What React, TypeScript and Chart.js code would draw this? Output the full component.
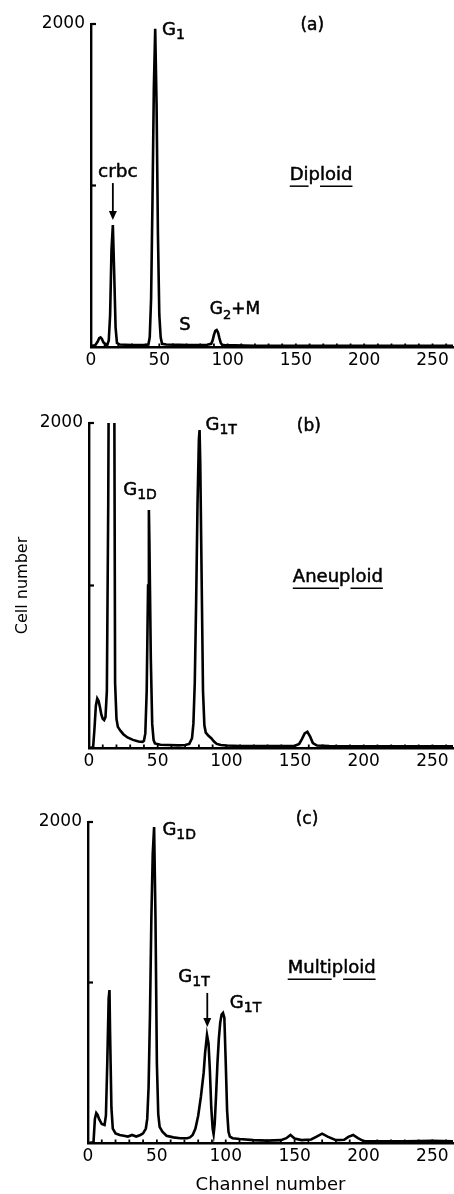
import React, { useEffect, useRef } from 'react';
import { Chart, registerables } from 'chart.js';

Chart.register(...registerables);

const FONT = 'DejaVu Sans';

// x-axis tick labels (channel number) and y-axis labelled tick
const channelTicks = [0, 50, 100, 150, 200, 250];
const minorChannelTicks = [10, 20, 30, 40, 50, 60, 70, 80, 90, 100, 110, 120, 130, 140, 150, 160, 170, 180, 190, 200, 210, 220, 230, 240, 250, 260];
const cellTicks = [1000, 2000];
const cellLabelled = [2000];

// (a) Diploid
const diploidChannels = [0, 3, 5, 6, 7, 8, 9, 11, 12, 13, 14, 15, 16, 17, 18, 19, 21, 25, 30, 35, 40, 42, 43, 44, 45, 46, 47, 48, 49, 50, 51, 52, 55, 60, 65, 70, 75, 80, 85, 88, 89, 90, 91, 92, 93, 94, 95, 96, 98, 105, 120, 140, 160, 180, 200, 220, 240, 265];
const diploidCounts = [8, 10, 35, 55, 60, 50, 30, 15, 15, 40, 200, 600, 755, 450, 120, 25, 15, 14, 12, 12, 12, 15, 60, 300, 900, 1600, 1970, 1500, 700, 200, 60, 20, 15, 14, 14, 12, 12, 12, 14, 20, 40, 75, 100, 105, 90, 55, 25, 14, 10, 10, 8, 8, 8, 8, 8, 8, 8, 8];

// (b) Aneuploid
const aneuploidChannels = [0, 3, 4, 5, 6, 7, 8, 9, 10, 11, 12, 13, 14, 15, 16, 17, 18, 19, 20, 21, 23, 25, 28, 32, 36, 39, 40, 41, 42, 43, 43.6, 44, 45, 46, 47, 48, 52, 58, 65, 70, 73, 75, 76, 77, 78, 79, 80, 80.5, 81, 82, 83, 84, 85, 87, 89, 91, 93, 96, 100, 110, 120, 135, 150, 153, 155, 157, 159, 161, 163, 166, 175, 200, 230, 265];
const aneuploidCounts = [0, 5, 120, 260, 305, 290, 250, 205, 180, 172, 190, 350, 1500, 3500, 4000, 4000, 3500, 400, 180, 130, 105, 85, 65, 50, 40, 38, 45, 90, 350, 1000, 1465, 1250, 550, 150, 50, 28, 20, 18, 16, 18, 25, 60, 150, 400, 900, 1500, 1900, 1957, 1750, 1050, 350, 140, 95, 75, 60, 40, 25, 18, 15, 12, 12, 12, 14, 25, 55, 90, 100, 70, 30, 15, 12, 10, 10, 10];

// (c) Multiploid
const multiploidChannels = [0, 4, 5, 6, 7, 8, 10, 12, 13, 14, 15, 15.6, 16, 17, 18, 20, 23, 26, 29, 32, 35, 38, 40, 42, 43, 44, 45, 46, 47, 48, 49, 50, 51, 52, 54, 57, 62, 67, 72, 74, 76, 78, 80, 82, 84, 85, 86.4, 87.5, 88.5, 89.5, 90.5, 91.2, 92, 93, 94, 95, 96, 97, 98, 99, 100, 101, 102, 103, 105, 110, 120, 130, 140, 144, 147, 150, 155, 162, 166, 170, 174, 180, 186, 189, 192.5, 196, 200, 215, 230, 250, 265];
const multiploidCounts = [0, 5, 150, 187, 175, 150, 118, 112, 170, 500, 900, 953, 700, 220, 90, 60, 50, 45, 40, 50, 40, 50, 60, 90, 150, 350, 800, 1400, 1800, 1969, 1400, 500, 180, 100, 70, 45, 35, 30, 30, 35, 50, 90, 170, 290, 440, 560, 673, 620, 450, 220, 90, 55, 120, 300, 500, 650, 750, 800, 810, 780, 500, 200, 70, 40, 30, 25, 18, 15, 18, 30, 50, 28, 18, 22, 40, 58, 40, 18, 20, 38, 50, 30, 12, 10, 10, 14, 10];

type Part = [string, 'n' | 'sub'];
type Note = { x: number; y: number; parts: Part[]; align: 'left' | 'center'; size: number; underline?: [number, number][] };
type Arrow = { x: number; y1: number; y2: number };
type Panel = {
  top: number; height: number; areaTop: number; areaBottom: number; areaLeft: number;
  channels: number[]; counts: number[]; notes: Note[]; arrows: Arrow[];
  yTitle?: string; xTitle?: string;
};

const panels: Panel[] = [
  {
    top: 0, height: 385, areaTop: 24, areaBottom: 347, areaLeft: 91,
    channels: diploidChannels, counts: diploidCounts,
    notes: [
      { x: 162, y: 1990, parts: [['(a)', 'n']], align: 'center', size: 17 },
      { x: 52, y: 1963, parts: [['G', 'n'], ['1', 'sub']], align: 'left', size: 18 },
      { x: 19.7, y: 1084, parts: [['crbc', 'n']], align: 'center', size: 18.5 },
      { x: 68.7, y: 136, parts: [['S', 'n']], align: 'center', size: 18 },
      { x: 87, y: 229, parts: [['G', 'n'], ['2', 'sub'], ['+M', 'n']], align: 'left', size: 17 },
      { x: 145.5, y: 1065, parts: [['Diploid', 'n']], align: 'left', size: 18, underline: [[0, 2], [3, 7]] },
    ],
    arrows: [{ x: 16, y1: 1015, y2: 786 }],
  },
  {
    top: 385, height: 390, areaTop: 38, areaBottom: 363, areaLeft: 89,
    channels: aneuploidChannels, counts: aneuploidCounts,
    notes: [
      { x: 160, y: 1975, parts: [['(b)', 'n']], align: 'center', size: 17 },
      { x: 84.8, y: 1988, parts: [['G', 'n'], ['1T', 'sub']], align: 'left', size: 18 },
      { x: 24.9, y: 1588, parts: [['G', 'n'], ['1D', 'sub']], align: 'left', size: 18 },
      { x: 148.4, y: 1052, parts: [['Aneuploid', 'n']], align: 'left', size: 18, underline: [[0, 4], [5, 9]] },
    ],
    arrows: [],
    yTitle: 'Cell number',
  },
  {
    top: 775, height: 419, areaTop: 47, areaBottom: 368, areaLeft: 88,
    channels: multiploidChannels, counts: multiploidCounts,
    notes: [
      { x: 159, y: 2013, parts: [['(c)', 'n']], align: 'center', size: 17 },
      { x: 54, y: 1950, parts: [['G', 'n'], ['1D', 'sub']], align: 'left', size: 18 },
      { x: 65.6, y: 1034, parts: [['G', 'n'], ['1T', 'sub']], align: 'left', size: 18 },
      { x: 103, y: 872, parts: [['G', 'n'], ['1T', 'sub']], align: 'left', size: 18 },
      { x: 145, y: 1090, parts: [['Multiploid', 'n']], align: 'left', size: 18, underline: [[0, 5], [6, 10]] },
    ],
    arrows: [{ x: 86.6, y1: 935, y2: 723 }],
    xTitle: 'Channel number',
  },
];

function drawNote(ctx: CanvasRenderingContext2D, px: number, py: number, n: Note) {
  const subSize = Math.round(n.size * 0.75);
  let total = 0;
  for (const [t, k] of n.parts) {
    ctx.font = `${k === 'sub' ? subSize : n.size}px "${FONT}"`;
    total += ctx.measureText(t).width;
  }
  let cx = n.align === 'center' ? px - total / 2 : px;
  ctx.textAlign = 'left';
  ctx.textBaseline = 'middle';
  ctx.fillStyle = '#000';
  ctx.strokeStyle = '#000';
  for (const [t, k] of n.parts) {
    ctx.font = `${k === 'sub' ? subSize : n.size}px "${FONT}"`;
    const ty = k === 'sub' ? py + n.size * 0.32 : py;
    ctx.fillText(t, cx, ty);
    ctx.lineWidth = 0.5;
    ctx.strokeText(t, cx, ty);
    if (n.underline && k === 'n') {
      ctx.lineWidth = 1.5;
      for (const [a, b] of n.underline) {
        const x0 = cx + ctx.measureText(t.slice(0, a)).width;
        const x1 = cx + ctx.measureText(t.slice(0, b)).width;
        ctx.beginPath();
        ctx.moveTo(x0, py + n.size * 0.62);
        ctx.lineTo(x1, py + n.size * 0.62);
        ctx.stroke();
      }
    }
    cx += ctx.measureText(t).width;
  }
}

function makeDecorPlugin(p: Panel) {
  return {
    id: 'decor',
    afterDraw(chart: any) {
      const ctx: CanvasRenderingContext2D = chart.ctx;
      const xs = chart.scales.x;
      const ys = chart.scales.y;
      const area = chart.chartArea;
      ctx.save();
      ctx.strokeStyle = '#000';
      // minor ticks on the channel axis, pointing up
      ctx.lineWidth = 1.8;
      for (const v of minorChannelTicks) {
        const x = xs.getPixelForValue(v);
        ctx.beginPath();
        ctx.moveTo(x, area.bottom);
        ctx.lineTo(x, area.bottom - 3.5);
        ctx.stroke();
      }
      // ticks on the cell-number axis, pointing right
      ctx.lineWidth = 2.2;
      for (const v of cellTicks) {
        const y = ys.getPixelForValue(v);
        ctx.beginPath();
        ctx.moveTo(area.left, y);
        ctx.lineTo(area.left + 5, y);
        ctx.stroke();
      }
      // arrows
      for (const a of p.arrows) {
        const x = xs.getPixelForValue(a.x);
        const y1 = ys.getPixelForValue(a.y1);
        const y2 = ys.getPixelForValue(a.y2);
        ctx.lineWidth = 1.8;
        ctx.beginPath();
        ctx.moveTo(x, y1);
        ctx.lineTo(x, y2 - 6);
        ctx.stroke();
        ctx.fillStyle = '#000';
        ctx.beginPath();
        ctx.moveTo(x - 4, y2 - 9);
        ctx.lineTo(x + 4, y2 - 9);
        ctx.lineTo(x, y2);
        ctx.closePath();
        ctx.fill();
      }
      for (const n of p.notes) {
        drawNote(ctx, xs.getPixelForValue(n.x), ys.getPixelForValue(n.y), n);
      }
      ctx.restore();
    },
  };
}

function PanelChart({ p }: { p: Panel }) {
  const ref = useRef<HTMLCanvasElement | null>(null);
  useEffect(() => {
    if (!ref.current) return;
    const chart = new Chart(ref.current, {
      type: 'line',
      data: {
        datasets: [
          {
            data: p.channels.map((c, i) => ({ x: c, y: p.counts[i] })),
            borderColor: '#000',
            borderWidth: 2.6,
            pointRadius: 0,
            tension: 0,
            fill: false,
          },
        ],
      },
      options: {
        animation: false,
        responsive: false,
        events: [],
        layout: { padding: { top: p.areaTop, right: 1, left: 0, bottom: 0 } },
        plugins: { legend: { display: false }, tooltip: { enabled: false } },
        scales: {
          x: {
            type: 'linear',
            min: 0,
            max: 265,
            grid: { display: false, drawTicks: false },
            border: { display: true, color: '#000', width: 2.4 },
            ticks: {
              color: '#000', font: { family: FONT, size: 17 }, padding: 3, maxRotation: 0, autoSkip: false,
              callback: (v: any) => String(v),
            },
            afterBuildTicks: (s: any) => { s.ticks = channelTicks.map((v) => ({ value: v })); },
            afterFit: (s: any) => { s.height = p.height - p.areaBottom; },
            title: p.xTitle
              ? { display: true, text: p.xTitle, color: '#000', font: { family: FONT, size: 18, lineHeight: 1 }, padding: { top: 0, bottom: 0 } }
              : { display: false },
          },
          y: {
            type: 'linear',
            min: 0,
            max: 2000,
            grid: { display: false, drawTicks: false },
            border: { display: true, color: '#000', width: 2.4 },
            ticks: { color: '#000', font: { family: FONT, size: 17 }, padding: 6, callback: (v: any) => String(v) },
            afterBuildTicks: (s: any) => { s.ticks = cellLabelled.map((v) => ({ value: v })); },
            afterFit: (s: any) => { s.width = p.areaLeft; },
            title: p.yTitle
              ? { display: true, text: p.yTitle, color: '#000', font: { family: FONT, size: 16, lineHeight: 1.2 }, padding: { top: 13, bottom: 0 } }
              : { display: false },
          },
        },
      } as any,
      plugins: [makeDecorPlugin(p)],
    });
    return () => chart.destroy();
  }, [p]);
  return (
    <div style={{ position: 'absolute', left: 0, top: p.top, width: 454, height: p.height }}>
      <canvas ref={ref} width={454} height={p.height} style={{ display: 'block' }} />
    </div>
  );
}

export default function App() {
  return (
    <div style={{ position: 'absolute', left: 0, top: 0, width: 454, height: 1194, background: '#fff', overflow: 'hidden' }}>
      {panels.map((p, i) => (
        <PanelChart key={i} p={p} />
      ))}
    </div>
  );
}
